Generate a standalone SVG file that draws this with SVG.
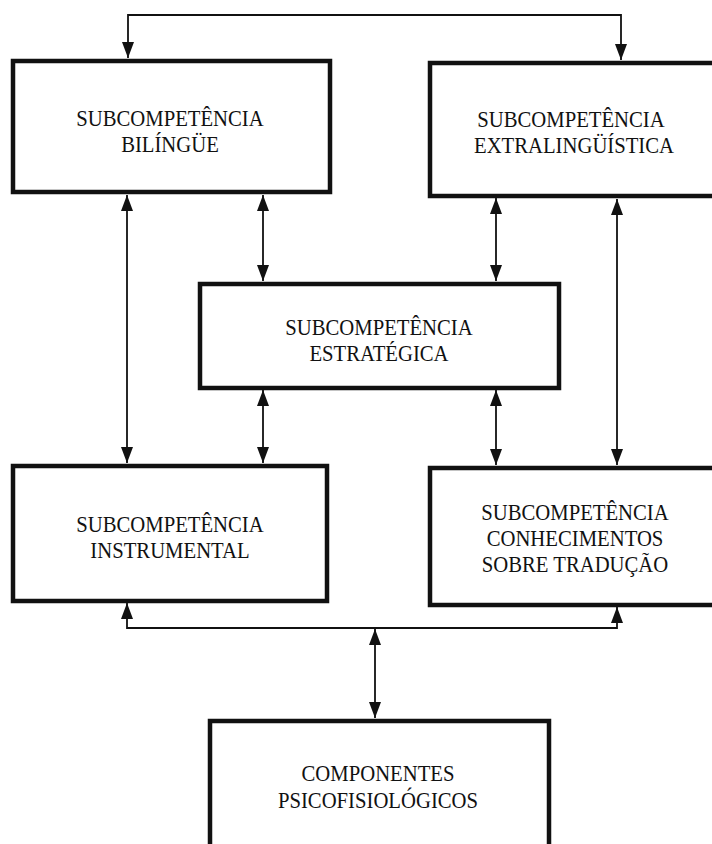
<svg xmlns="http://www.w3.org/2000/svg" width="712" height="844" viewBox="0 0 712 844">
<style>
.box{fill:#fff;stroke:#111;stroke-width:4.5}
.lbl{font-family:"Liberation Serif","Times New Roman",serif;font-size:23px;fill:#111;text-anchor:middle}
.con{fill:none;stroke:#111;stroke-width:1.8}
</style>
<defs>
<marker id="ah" viewBox="0 0 16 12" refX="16" refY="6" markerUnits="userSpaceOnUse" markerWidth="16" markerHeight="12" orient="auto-start-reverse">
<path d="M0,0 L16,6 L0,12 z" fill="#111"/>
</marker>
</defs>
<rect width="712" height="844" fill="#fff"/>
<g id="connectors">
<path class="con" d="M128,58 V15 H621 V60" marker-start="url(#ah)" marker-end="url(#ah)"/>
<line class="con" x1="127" y1="195" x2="127" y2="463" marker-start="url(#ah)" marker-end="url(#ah)"/>
<line class="con" x1="263" y1="195" x2="263" y2="281" marker-start="url(#ah)" marker-end="url(#ah)"/>
<line class="con" x1="263" y1="390" x2="263" y2="463" marker-start="url(#ah)" marker-end="url(#ah)"/>
<line class="con" x1="496" y1="198" x2="496" y2="281" marker-start="url(#ah)" marker-end="url(#ah)"/>
<line class="con" x1="496" y1="390" x2="496" y2="465" marker-start="url(#ah)" marker-end="url(#ah)"/>
<line class="con" x1="617" y1="199" x2="617" y2="465" marker-start="url(#ah)" marker-end="url(#ah)"/>
<path class="con" d="M127,603 V628 H617 V607" marker-start="url(#ah)" marker-end="url(#ah)"/>
<line class="con" x1="375" y1="629" x2="375" y2="718" marker-start="url(#ah)" marker-end="url(#ah)"/>
</g>
<g id="bilingue">
<rect class="box" x="13" y="61" width="317" height="131"/>
<text class="lbl" transform="translate(170 0) scale(0.9 1)" x="0" y="126">SUBCOMPETÊNCIA</text>
<text class="lbl" transform="translate(170 0) scale(0.9 1)" x="0" y="152">BILÍNGÜE</text>
</g>
<g id="extralinguistica">
<rect class="box" x="430" y="63" width="290" height="133"/>
<text class="lbl" transform="translate(571 0) scale(0.9 1)" x="0" y="127">SUBCOMPETÊNCIA</text>
<text class="lbl" transform="translate(574 0) scale(0.9 1)" x="0" y="153">EXTRALINGÜÍSTICA</text>
</g>
<g id="estrategica">
<rect class="box" x="200" y="284" width="359" height="104"/>
<text class="lbl" transform="translate(379 0) scale(0.9 1)" x="0" y="335">SUBCOMPETÊNCIA</text>
<text class="lbl" transform="translate(379 0) scale(0.9 1)" x="0" y="361">ESTRATÉGICA</text>
</g>
<g id="instrumental">
<rect class="box" x="13" y="466" width="314" height="135"/>
<text class="lbl" transform="translate(170 0) scale(0.9 1)" x="0" y="532">SUBCOMPETÊNCIA</text>
<text class="lbl" transform="translate(170 0) scale(0.9 1)" x="0" y="558">INSTRUMENTAL</text>
</g>
<g id="conhecimentos">
<rect class="box" x="430" y="468" width="290" height="137"/>
<text class="lbl" transform="translate(575 0) scale(0.9 1)" x="0" y="520">SUBCOMPETÊNCIA</text>
<text class="lbl" transform="translate(575 0) scale(0.9 1)" x="0" y="546">CONHECIMENTOS</text>
<text class="lbl" transform="translate(575 0) scale(0.9 1)" x="0" y="572">SOBRE TRADUÇÃO</text>
</g>
<g id="psicofisiologicos">
<rect class="box" x="210" y="721" width="339" height="130"/>
<text class="lbl" transform="translate(378 0) scale(0.9 1)" x="0" y="781">COMPONENTES</text>
<text class="lbl" transform="translate(378 0) scale(0.9 1)" x="0" y="808">PSICOFISIOLÓGICOS</text>
</g>
</svg>
